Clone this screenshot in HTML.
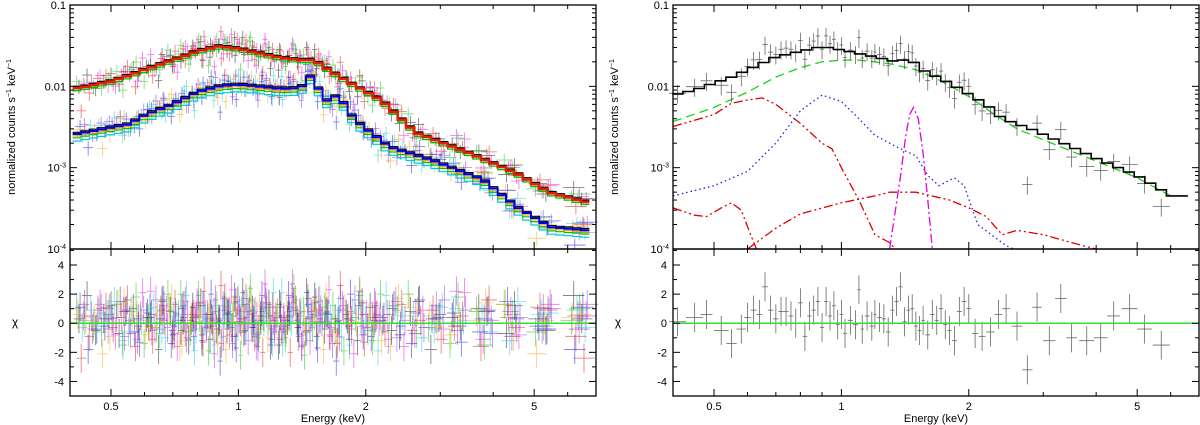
<!DOCTYPE html>
<html><head><meta charset="utf-8">
<style>
html,body{margin:0;padding:0;background:#fff;}
svg{display:block;font-family:"Liberation Sans",sans-serif;}
</style></head>
<body>
<svg id="chart" width="1200" height="425" viewBox="0 0 1200 425" xmlns="http://www.w3.org/2000/svg"></svg>
<script>
// ---------- data ----------
const xTickMajor = [0.5, 1, 2, 5];
const xTickMajorLabels = ["0.5", "1", "2", "5"];
const xTickMinor = [0.4, 0.6, 0.7, 0.8, 0.9, 3, 4, 6, 7];
const yUpperTicks = [0.1, 0.01, 0.001, 0.0001];
const yUpperLabels = ["0.1", "0.01", "10|-3", "10|-4"];
const yLowerTicks = [4, 2, 0, -2, -4];
const yLowerLabels = ["4", "2", "0", "-2", "-4"];

const leftHighE = [0.42,0.5,0.55,0.6,0.7,0.8,0.9,1.0,1.1,1.26,1.4,1.51,1.6,1.82,2.18,2.62,3.52,4.54,5.46,6.6];
const leftHighV = [0.0095,0.0115,0.0135,0.016,0.021,0.027,0.031,0.029,0.026,0.0223,0.021,0.021,0.017,0.0113,0.0067,0.0027,0.0015,0.00085,0.00049,0.00038];
const leftLowE = [0.4,0.55,0.6,0.65,0.7,0.8,0.9,1.0,1.1,1.26,1.4,1.49,1.6,1.72,1.88,2.27,2.87,3.78,4.54,5.46,6.6];
const leftLowV = [0.0025,0.0034,0.0044,0.0052,0.006,0.0085,0.01,0.0105,0.010,0.0093,0.0095,0.0138,0.0065,0.0078,0.0039,0.0018,0.00123,0.00071,0.00033,0.000186,0.00017];
const leftGridE = [0.42,0.46,0.5,0.54,0.58,0.62,0.66,0.7,0.74,0.78,0.82,0.86,0.9,0.94,0.98,1.03,1.08,1.13,1.19,1.25,1.31,1.38,1.45,1.53,1.62,1.72,1.83,1.96,2.1,2.3,2.55,2.85,3.2,3.7,4.3,5.1,6.2];
const chiBlack  = [0.3,-0.5,1.2,0.8,-0.2,0.4,1.5,-0.8,0.2,1.1,-1.2,0.6,0.3,-0.4,1.8,-0.6,0.9,0.2,-1.5,1.3,0.5,-0.3,2.1,-0.9,0.7,0.1,-1.1,1.4,0.2,-0.5,0.8,-1.8,0.4,1.0,-0.7,0.3,1.9];
const chiRed    = [-2.4,0.9,-0.3,1.6,0.5,-1.1,0.2,1.3,-0.6,0.4,2.2,-0.2,-1.4,0.8,0.1,1.7,-0.9,0.5,1.1,-0.4,-2.0,0.7,0.3,1.5,-0.8,2.6,0.2,-1.3,0.6,1.2,-0.5,0.9,-0.2,-1.6,0.4,1.1,-0.9];
const chiGreen  = [1.0,-0.2,0.6,-1.5,1.8,0.3,-0.7,0.9,2.0,-0.5,0.4,-1.9,1.2,0.6,-0.3,0.8,2.4,-1.0,0.2,0.7,-0.6,1.6,-2.2,0.5,1.1,-0.4,0.3,1.9,-1.2,0.6,2.0,-0.3,-1.4,0.8,1.3,-0.6,0.2];
const chiMagenta= [0.5,1.3,-0.8,0.2,2.1,-0.4,0.9,-1.6,0.6,1.4,-0.2,0.8,-0.9,2.3,0.3,-1.2,0.5,1.8,-0.6,0.2,2.7,-1.5,0.4,0.9,-0.3,1.2,-2.1,0.6,0.1,1.5,-0.7,0.3,2.2,-1.1,0.8,-0.4,0.5];
const chiBlue   = [1.1,-0.4,0.3,0.9,-1.3,0.6,1.6,-0.2,0.4,-0.9,1.2,0.3,-2.6,0.7,1.4,-0.5,0.2,1.9,-1.1,0.5,0.8,-0.3,1.3,-1.7,0.6,0.2,2.0,-0.8,0.4,1.0,-1.4,0.3,0.7,-0.6,1.5,-0.2,-1.8];
const chiCyan   = [-0.3,0.7,1.5,-0.6,0.2,1.1,-1.0,0.5,1.9,-0.4,0.3,-1.5,0.9,0.6,-0.2,1.3,-0.7,0.4,2.1,-1.3,0.1,0.8,-0.5,1.6,0.3,-1.0,0.7,0.2,-1.9,1.2,0.5,-0.4,1.0,0.3,-1.2,0.6,0.9];
const chiOrange = [0.6,0.2,-0.9,1.4,0.5,-0.3,0.8,1.7,-1.2,0.4,0.1,1.0,-0.6,-1.8,0.9,0.3,1.5,-0.4,0.7,-1.0,1.2,0.2,-0.5,0.9,1.8,-1.3,0.4,0.6,-0.2,-1.6,1.1,0.5,-0.8,0.2,1.3,-2.1,0.4];
const chiPurple = [1.3,1.0,0.4,-0.7,0.9,1.6,-0.3,0.2,-1.1,1.2,0.6,-0.4,1.7,-0.9,0.3,0.8,-1.6,1.1,0.4,-0.2,1.4,-0.8,0.6,0.1,-1.4,0.9,1.6,-0.3,0.5,-1.0,0.7,1.2,-0.5,0.3,-0.9,1.0,-0.4];

const totalE = [0.4,0.45,0.5,0.55,0.6,0.7,0.8,0.9,1.0,1.2,1.35,1.45,1.55,1.8,2.0,2.2,2.4,2.8,3.5,4.0,5.0,5.5,6.0,6.5];
const totalV = [0.0078,0.009,0.011,0.013,0.016,0.023,0.027,0.031,0.028,0.023,0.020,0.022,0.016,0.011,0.008,0.006,0.004,0.003,0.0018,0.0013,0.0008,0.0006,0.00045,0.00045];
const contE = [0.4,0.5,0.6,0.7,0.8,0.9,1.0,1.1,1.3,1.5,1.7,2.0,2.3,2.6,3.0,4.0,5.0,6.0];
const contV = [0.0037,0.0055,0.0085,0.013,0.017,0.020,0.021,0.021,0.019,0.016,0.012,0.0075,0.0045,0.003,0.0022,0.0012,0.00075,0.00045];
const softE = [0.4,0.5,0.55,0.6,0.65,0.7,0.8,0.9,0.95,1.0,1.1,1.2,1.3,1.34];
const softV = [0.0032,0.0045,0.0062,0.0068,0.0072,0.006,0.0035,0.002,0.0017,0.001,0.0004,0.00015,0.00012,0.0001];
const plasmaE = [0.4,0.5,0.6,0.7,0.8,0.9,1.0,1.1,1.2,1.35,1.5,1.6,1.7,1.85,1.95,2.1,2.3,2.45,2.55];
const plasmaV = [0.00045,0.0006,0.0009,0.002,0.005,0.0078,0.0065,0.004,0.0025,0.0018,0.0014,0.0008,0.0006,0.00075,0.0006,0.0002,0.00014,0.00011,0.0001];
const lineE = [1.3,1.38,1.42,1.45,1.48,1.52,1.56,1.6,1.64];
const lineV = [0.0001,0.0008,0.0025,0.0045,0.0055,0.004,0.0015,0.0004,0.0001];
const lowAE = [0.4,0.45,0.48,0.52,0.55,0.58,0.61,0.63,0.645];
const lowAV = [0.00032,0.00026,0.00025,0.00032,0.00037,0.0003,0.00015,0.0001,0.00007];
const lowBE = [0.6,0.7,0.8,1.0,1.2,1.3,1.5,1.8,2.0,2.2,2.4,2.6,3.0,3.5,4.0];
const lowBV = [0.0001,0.00018,0.00027,0.00037,0.00045,0.0005,0.0005,0.0004,0.00032,0.00025,0.00015,0.00017,0.00015,0.00012,0.0001];
const rightDataE = [0.41,0.45,0.48,0.52,0.55,0.58,0.6,0.62,0.64,0.66,0.68,0.7,0.72,0.74,0.76,0.78,0.8,0.82,0.84,0.86,0.88,0.9,0.92,0.94,0.96,0.98,1.0,1.02,1.05,1.08,1.1,1.12,1.15,1.18,1.2,1.23,1.26,1.29,1.32,1.35,1.38,1.41,1.44,1.47,1.5,1.53,1.56,1.6,1.64,1.68,1.72,1.76,1.8,1.85,1.9,1.95,2.0,2.07,2.15,2.25,2.35,2.45,2.6,2.75,2.9,3.1,3.3,3.5,3.8,4.1,4.4,4.8,5.2,5.7,6.3];
const rightChi = [0.1,0.4,0.6,-0.5,-1.4,-0.4,0.4,0.9,0.6,2.5,0.9,0.3,0.8,0.8,0.5,0.0,1.4,-0.9,0.5,0.9,1.5,-0.3,1.5,0.5,1.2,-0.1,0.6,-0.7,0.2,-0.1,2.3,-0.4,0.5,-0.2,0.6,0.4,0.3,-0.6,0.9,1.5,2.5,0.1,0.9,1.0,-0.2,-0.5,0.2,-0.8,0.6,0.2,1.0,-0.1,-0.5,-1.2,0.8,1.5,1.0,-0.7,-0.9,-0.6,0.6,1.0,-0.2,-3.2,1.1,-1.2,1.7,-1.0,-1.2,-1.0,0.5,1.0,-0.4,-1.5];

// ---------- helpers ----------
const NS = "http://www.w3.org/2000/svg";
const svg = document.getElementById("chart");
function mk(tag, attrs, parent) {
  const e = document.createElementNS(NS, tag);
  for (const k in attrs) e.setAttribute(k, attrs[k]);
  (parent || svg).appendChild(e);
  return e;
}
const TOP = 5, MID = 249, BOT = 396;
const XMIN = 0.4, XMAX = 7.0;
function makeX(x0, x1) {
  return E => x0 + (Math.log10(E) - Math.log10(XMIN)) / (Math.log10(XMAX) - Math.log10(XMIN)) * (x1 - x0);
}
const yU = v => TOP + (-1 - Math.log10(v)) / 3 * (MID - TOP);
const yL = c => MID + (5.1 - c) / 10.1 * (BOT - MID);
function interp(Es, Vs, E) {
  if (E <= Es[0]) return Vs[0];
  for (let i = 1; i < Es.length; i++) if (E <= Es[i]) {
    const t = (Math.log(E) - Math.log(Es[i-1])) / (Math.log(Es[i]) - Math.log(Es[i-1]));
    return Math.exp(Math.log(Vs[i-1]) + t * (Math.log(Vs[i]) - Math.log(Vs[i-1])));
  }
  return Vs[Vs.length - 1];
}
function clipTop(y) { return Math.max(TOP, Math.min(MID, y)); }
// fine bin grid for model steps (geometry only)
function binGrid(lo, hi, n) { const g = []; for (let i = 0; i < n; i++) g.push(lo * Math.pow(hi / lo, i / (n - 1))); return g; }

function drawAxes(g, x0, x1, X, name) {
  const ax = mk("g", {}, g);
  
  
  mk("rect", {x: x0, y: TOP, width: x1 - x0, height: BOT - TOP, fill: "none", stroke: "#000", "stroke-width": 1.3}, ax);
  mk("line", {x1: x0, x2: x1, y1: MID, y2: MID, stroke: "#000", "stroke-width": 1.6}, ax);
  const tick = (E, len) => {
    const x = X(E);
    [[TOP, 1], [MID, 1], [MID, -1], [BOT, -1]].forEach(([y, d]) =>
      mk("line", {x1: x, x2: x, y1: y, y2: y + d * len, stroke: "#000", "stroke-width": 1}, ax));
  };
  xTickMajor.forEach((E, i) => {
    tick(E, 7);
    const t = mk("text", {x: X(E), y: 410, "font-size": 11, "text-anchor": "middle", fill: "#000"}, ax);
    t.textContent = xTickMajorLabels[i];
    
    
  });
  xTickMinor.forEach(E => tick(E, 4));
  for (let d = -4; d <= -2; d++) for (let m = 1; m <= 9; m++) {
    const v = m * Math.pow(10, d), y = yU(v), len = m === 1 ? 7 : 4;
    mk("line", {x1: x0, x2: x0 + len, y1: y, y2: y, stroke: "#000", "stroke-width": 1}, ax);
    mk("line", {x1: x1, x2: x1 - len, y1: y, y2: y, stroke: "#000", "stroke-width": 1}, ax);
  }
  yUpperTicks.forEach((v, i) => {
    const parts = yUpperLabels[i].split("|");
    const t = mk("text", {x: x0 - 4, y: yU(v) + 4, "font-size": 11, "text-anchor": "end", fill: "#000"}, ax);
    
    
    if (parts.length === 1) t.textContent = parts[0];
    else {
      const a = mk("tspan", {}, t); a.textContent = parts[0];
      const b = mk("tspan", {"font-size": 7, dy: -4}, t); b.textContent = parts[1];
    }
  });
  for (let c = -5; c <= 5; c++) {
    const y = yL(c), len = c % 2 === 0 ? 7 : 4;
    mk("line", {x1: x0, x2: x0 + len, y1: y, y2: y, stroke: "#000", "stroke-width": 1}, ax);
    mk("line", {x1: x1, x2: x1 - len, y1: y, y2: y, stroke: "#000", "stroke-width": 1}, ax);
  }
  yLowerTicks.forEach((c, i) => {
    const t = mk("text", {x: x0 - 6, y: yL(c) + 4, "font-size": 11, "text-anchor": "end", fill: "#000"}, ax);
    t.textContent = yLowerLabels[i];
    
    
  });
  const yt = mk("text", {transform: `translate(${x0 - 55},127) rotate(-90)`, "font-size": 11, "text-anchor": "middle", fill: "#000"}, ax);
  
  
  const s1 = mk("tspan", {}, yt); s1.textContent = "normalized counts s";
  const s2 = mk("tspan", {"font-size": 7, dy: -4}, yt); s2.textContent = "−1";
  const s3 = mk("tspan", {dy: 4}, yt); s3.textContent = " keV";
  const s4 = mk("tspan", {"font-size": 7, dy: -4}, yt); s4.textContent = "−1";
  const chi = mk("text", {x: x0 - 55, y: 326, "font-size": 12, "text-anchor": "middle", fill: "#000"}, ax);
  chi.textContent = "χ";
  
  
  const xt = mk("text", {x: (x0 + x1) / 2, y: 422, "font-size": 11, "text-anchor": "middle", fill: "#000"}, ax);
  xt.textContent = "Energy (keV)";
  
  
}

function stepPath(gridE, Es, Vs, X, shift) {
  let d = "";
  for (let i = 0; i < gridE.length; i++) {
    const lo = i === 0 ? gridE[0] / Math.sqrt(gridE[1] / gridE[0]) : Math.sqrt(gridE[i-1] * gridE[i]);
    const hi = i === gridE.length - 1 ? gridE[i] * Math.sqrt(gridE[i] / gridE[i-1]) : Math.sqrt(gridE[i] * gridE[i+1]);
    const y = clipTop(yU(interp(Es, Vs, gridE[i]) * shift));
    d += (i === 0 ? "M" : "L") + X(lo).toFixed(1) + "," + y.toFixed(1) + "L" + X(hi).toFixed(1) + "," + y.toFixed(1);
  }
  return d;
}
function curvePath(Es, Vs, X) {
  return Es.map((E, i) => (i ? "L" : "M") + X(E).toFixed(1) + "," + yU(Vs[i]).toFixed(1)).join("");
}
function drawPoints(g, gridE, chis, Es, Vs, X, color, shiftE, frac, hw, op, name) {
  const pg = mk("g", {stroke: color, "stroke-width": 0.8, opacity: op}, g);
  
  
  const n = Math.min(gridE.length, chis.length);
  for (let i = 0; i < n; i++) {
    const E = gridE[i] * shiftE;
    const half = i === 0 ? gridE[1] / gridE[0] : gridE[i] / gridE[i-1];
    const lo = E / Math.pow(half, hw), hi = E * Math.pow(half, hw);
    const m = interp(Es, Vs, E);
    const v = m * (1 + frac * chis[i]);
    const x = X(E), y = yU(Math.max(v, 1e-5));
    const ya = clipTop(yU(v * (1 + frac))), yb = clipTop(yU(Math.max(v * (1 - frac), 1e-5)));
    if (y >= TOP && y <= MID) {
      mk("line", {x1: X(lo), x2: X(hi), y1: y, y2: y}, pg);
      mk("line", {x1: x, x2: x, y1: ya, y2: yb}, pg);
    }
    const yc = yL(chis[i]);
    mk("line", {x1: X(lo), x2: X(hi), y1: yc, y2: yc}, pg);
    mk("line", {x1: x, x2: x, y1: yL(chis[i] + 1), y2: yL(chis[i] - 1)}, pg);
  }
}

// ---------- left panel ----------
const LX = makeX(70, 596);
const left = mk("g", {});


const ldata = [
  [chiBlack, "#000000", 1.0, leftHighE, leftHighV, 'data-black'],
  [chiRed, "#e00000", 1.012, leftHighE, leftHighV, 'data-red'],
  [chiGreen, "#00c000", 0.988, leftHighE, leftHighV, 'data-green'],
  [chiMagenta, "#e000e0", 1.024, leftHighE, leftHighV, 'data-magenta'],
  [chiBlue, "#0000e0", 1.006, leftLowE, leftLowV, 'data-blue'],
  [chiCyan, "#00c8d8", 1.018, leftLowE, leftLowV, 'data-cyan'],
  [chiOrange, "#f0a000", 0.994, leftLowE, leftLowV, 'data-orange'],
  [chiPurple, "#8020d0", 1.03, leftLowE, leftLowV, 'data-purple']
];
ldata.forEach(([c, col, sh, Es, Vs, nm]) => {
  drawPoints(left, leftGridE, c, Es, Vs, LX, col, sh, 0.2, 0.3, 0.55, nm);
  drawPoints(left, leftGridE, c.slice().reverse(), Es, Vs, LX, col, sh * 1.045, 0.2, 0.3, 0.55, nm + '-b');
});
const fineL = binGrid(0.415, 6.6, 62);
const lmodels = [
  [leftLowE, leftLowV, "#00c8d8", 0.82, 1.2, 'model-low-cyan'],
  [leftLowE, leftLowV, "#00c000", 0.9, 1.2, 'model-low-green'],
  [leftLowE, leftLowV, "#f0a000", 0.95, 1.2, 'model-low-orange'],
  [leftLowE, leftLowV, "#000000", 1.05, 1.2, 'model-low-black'],
  [leftLowE, leftLowV, "#0000e0", 1.0, 2, 'model-low-blue'],
  [leftHighE, leftHighV, "#00c000", 0.93, 1.3, 'model-high-green'],
  [leftHighE, leftHighV, "#000000", 1.05, 1.2, 'model-high-black'],
  [leftHighE, leftHighV, "#e02000", 1.0, 2.6, 'model-high-red']
];
lmodels.forEach(([Es, Vs, col, sh, w, nm]) => {
  const p = mk("path", {d: stepPath(fineL, Es, Vs, LX, sh), fill: "none", stroke: col, "stroke-width": w}, left);
  
  
});
const lz = mk("line", {x1: 70, x2: 596, y1: yL(0), y2: yL(0), stroke: "#30e030", "stroke-width": 1.5}, left);


drawAxes(left, 70, 596, LX, 'left');

// ---------- right panel ----------
const RX = makeX(673, 1199);
const right = mk("g", {});


const clip = mk("clipPath", {id: "rc"});
mk("rect", {x: 673, y: TOP, width: 526, height: MID - TOP}, clip);
const comps = [
  [contE, contV, "#20d020", "9,5", 'component-continuum'],
  [softE, softV, "#e00000", "9,3,2,3,2,3", 'component-soft'],
  [plasmaE, plasmaV, "#2020e0", "1.5,3", 'component-plasma'],
  [lineE, lineV, "#e000e0", "9,3,2,3", 'component-line'],
  [lowAE, lowAV, "#e00000", "9,3,2,3,2,3", 'component-low-a'],
  [lowBE, lowBV, "#e00000", "9,3,2,3,2,3", 'component-low-b']
];
comps.forEach(([Es, Vs, col, dash, nm]) => {
  const p = mk("path", {d: curvePath(Es, Vs, RX), fill: "none", stroke: col, "stroke-width": 1.3, "stroke-dasharray": dash, "clip-path": "url(#rc)"}, right);
  
  
});
drawPoints(right, rightDataE, rightChi, totalE, totalV, RX, "#333", 1.0, 0.25, 0.5, 0.75, 'data-points');
const fineR = binGrid(0.41, 6.4, 48);
const tp = mk("path", {d: stepPath(fineR, totalE, totalV, RX, 1.0), fill: "none", stroke: "#000", "stroke-width": 1.6}, right);


const rz = mk("line", {x1: 673, x2: 1199, y1: yL(0), y2: yL(0), stroke: "#30e030", "stroke-width": 1.5}, right);


drawAxes(right, 673, 1199, RX, 'right');
</script>
</body></html>
